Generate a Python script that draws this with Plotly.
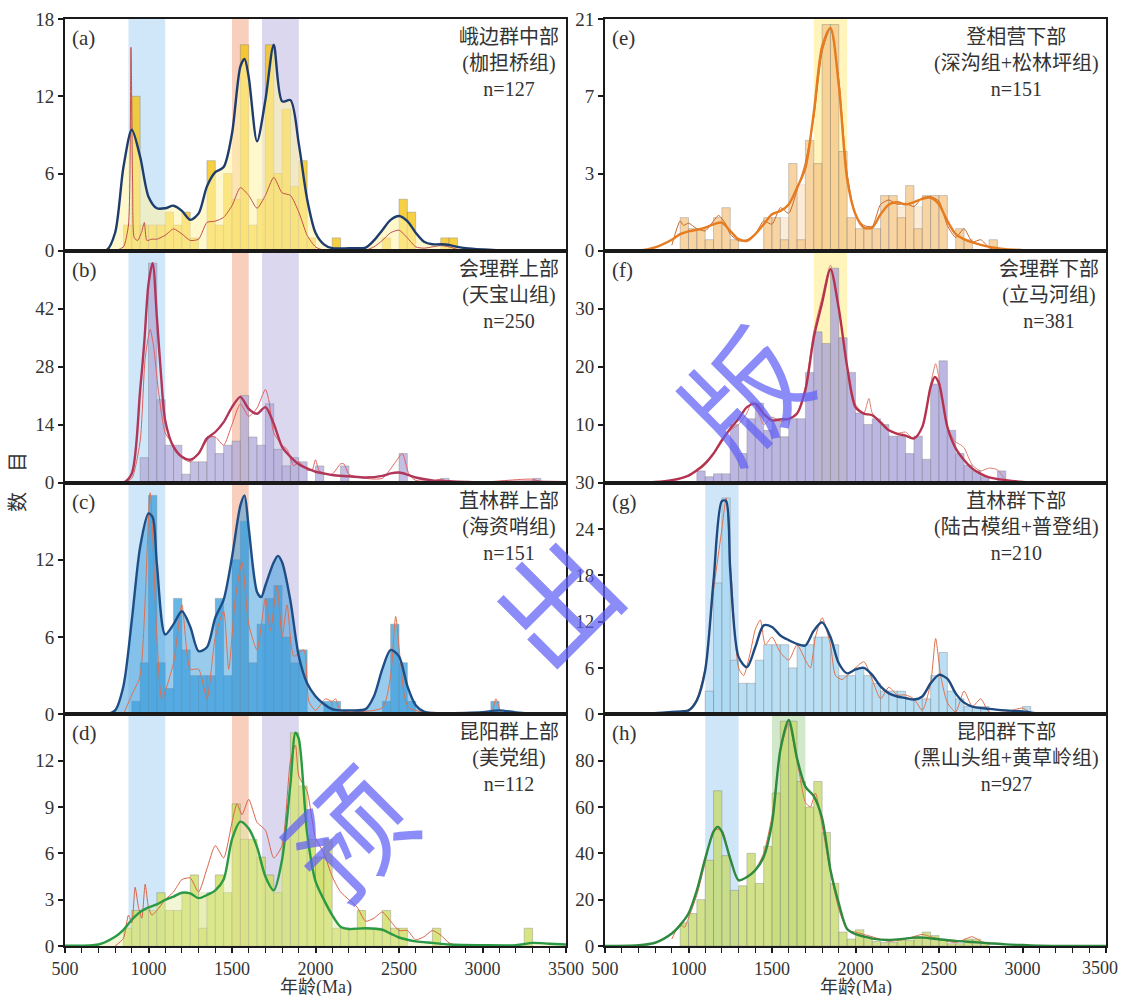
import plotly.graph_objects as go

# ---------------- data ----------------
# bars: left edge of 50-Ma bins and heights
a_bar_x = [850, 900, 950, 1000, 1050, 1100, 1150, 1200, 1250, 1350, 1400, 1450, 1500, 1550, 1600, 1650,
           1700, 1750, 1800, 1850, 1900, 1950, 2100, 2400, 2500, 2550, 2750, 2800]
a_bar_y = [2, 12, 2, 2, 2, 3, 2, 3, 1, 7, 2, 6, 4, 16, 2, 4, 16, 6, 11, 5, 7, 1, 1, 1, 4, 3, 1, 1]
a_kde_x = [500, 700, 750, 800, 850, 900, 950, 1000, 1050, 1100, 1150, 1200, 1250, 1300, 1350, 1400, 1450,
           1500, 1550, 1575, 1600, 1650, 1700, 1750, 1800, 1850, 1900, 1950, 2000, 2050, 2100, 2200, 2300,
           2350, 2400, 2450, 2500, 2550, 2600, 2650, 2700, 2750, 2800, 2850, 2900, 3000, 3100, 3500]
a_kde_y = [0, 0, 0.05, 1.4, 6.5, 9.4, 7.3, 4.2, 3.3, 3.3, 3.5, 3.1, 2.4, 2.9, 5.0, 6.1, 6.5, 9.1, 14.3, 14.9,
           13.5, 8.5, 11.7, 16.0, 11.6, 11.7, 8.3, 4.0, 1.4, 0.5, 0.2, 0.2, 0.25, 0.8, 1.6, 2.4, 2.7, 2.3,
           1.4, 0.7, 0.5, 0.5, 0.45, 0.3, 0.2, 0.1, 0.03, 0]
a_pdp_x = [800, 850, 880, 895, 905, 915, 935, 960, 975, 990, 1020, 1050, 1100, 1150, 1200, 1250, 1300, 1350,
           1400, 1450, 1500, 1550, 1600, 1650, 1700, 1750, 1800, 1850, 1900, 1950, 2000, 2050, 2300, 2350,
           2400, 2450, 2500, 2550, 2600, 2650, 2700, 2750, 2800, 2850, 2900]
a_pdp_y = [0, 0.3, 2, 15.8, 5, 1, 0.8, 1.5, 2.2, 0.8, 0.9, 0.9, 1.2, 1.7, 1.3, 0.8, 0.9, 2.2, 2.3, 2.6, 3.5,
           4.9, 4.3, 3.3, 4.3, 5.7, 4.5, 4.3, 3.0, 1.2, 0.3, 0.05, 0.05, 0.3, 0.8, 1.4, 1.6, 1.0, 0.3, 0.2,
           0.3, 0.4, 0.3, 0.1, 0]

b_bar_x = [950, 1000, 1050, 1100, 1150, 1200, 1250, 1300, 1350, 1400, 1450, 1500, 1550, 1600, 1650, 1700,
           1750, 1800, 1850, 1900, 2000, 2150, 2500, 2750, 3300]
b_bar_y = [6, 53, 20, 9, 9, 2, 5, 5, 11, 7, 9, 10, 21, 11, 9, 19, 8, 4, 6, 5, 4, 4, 7, 1, 1]
b_kde_x = [500, 850, 900, 950, 975, 1000, 1025, 1050, 1075, 1100, 1150, 1200, 1250, 1300, 1350, 1400, 1450,
           1500, 1550, 1600, 1650, 1700, 1750, 1800, 1850, 1900, 1950, 2000, 2050, 2100, 2200, 2300, 2400,
           2450, 2500, 2550, 2600, 2700, 2800, 2900, 3000, 3300, 3500]
b_kde_y = [0, 0, 2.2, 22.3, 34, 48, 53, 40, 26, 15, 8.6, 6.2, 5.5, 7.0, 10.6, 12.2, 14.6, 18.2, 20.7, 17.8,
           16.6, 18.2, 14.2, 8.6, 6.2, 4.4, 3.4, 2.6, 2.2, 1.8, 1.5, 1.2, 1.6, 2.2, 2.4, 1.9, 1.2, 0.5, 0.3,
           0.15, 0.05, 0.2, 0.05]
b_pdp_x = [850, 900, 950, 980, 1010, 1030, 1060, 1100, 1150, 1200, 1250, 1300, 1350, 1400, 1450, 1500, 1550,
           1600, 1650, 1700, 1720, 1750, 1800, 1830, 1870, 1900, 1950, 1980, 2000, 2020, 2050, 2100, 2150,
           2170, 2200, 2300, 2400, 2480, 2520, 2560, 2600, 2700, 2750, 2800, 3000, 3300, 3350]
b_pdp_y = [0, 1, 10, 30, 37, 33, 22, 12, 9, 6, 5, 7, 11, 11, 9, 14, 19, 16, 18, 22.5, 20, 12, 9, 8, 4, 5, 3,
           3, 5.5, 3, 2, 2, 4.5, 4.5, 2, 1, 1, 5, 7, 2, 0.5, 0.3, 0.8, 0.2, 0.1, 0.8, 0.1]

c_bar_x = [900, 950, 1000, 1050, 1100, 1150, 1200, 1250, 1300, 1350, 1400, 1450, 1500, 1550, 1600, 1650,
           1700, 1750, 1800, 1850, 1900, 2050, 2100, 2400, 2450, 2500, 2550, 3050]
c_bar_y = [1, 4, 17, 4, 2, 9, 5, 3, 3, 3, 9, 3, 12, 15, 4, 7, 9, 10, 6, 4, 5, 1, 1, 1, 7, 4, 1, 1]
c_kde_x = [500, 750, 800, 850, 900, 950, 1000, 1025, 1050, 1100, 1150, 1200, 1250, 1300, 1350, 1400, 1450,
           1500, 1550, 1575, 1600, 1650, 1675, 1700, 1750, 1775, 1800, 1850, 1900, 1950, 2000, 2050, 2100,
           2150, 2200, 2300, 2350, 2400, 2450, 2500, 2550, 2600, 2650, 2700, 2900, 3000, 3100, 3200, 3300, 3500]
c_kde_y = [0, 0, 0.3, 2.2, 7.3, 13, 15.6, 15.3, 11.7, 6.2, 7.0, 8.0, 6.8, 4.9, 5.2, 7.5, 8.9, 12.2, 16.2,
           17.0, 14.5, 9.5, 9.1, 10.0, 11.8, 12.3, 11.8, 8.8, 4.5, 2.4, 1.4, 0.8, 0.4, 0.3, 0.3, 0.4, 1.4, 3.5,
           5.0, 4.5, 2.2, 0.7, 0.2, 0.1, 0.1, 0.15, 0.3, 0.15, 0.05, 0]
c_pdp_x = [850, 900, 950, 1010, 1050, 1080, 1150, 1200, 1250, 1300, 1350, 1400, 1450, 1480, 1520, 1560, 1600,
           1650, 1700, 1730, 1770, 1800, 1830, 1870, 1930, 1960, 2000, 2060, 2100, 2120, 2150, 2400, 2450,
           2480, 2510, 2560, 3050, 3080, 3110]
c_pdp_y = [0, 1.5, 3, 17.2, 6, 1.2, 4, 8.5, 3.5, 3.5, 1.2, 6, 8, 3.5, 9, 11.8, 7, 5, 9, 6.5, 10, 6, 8.5, 4.5,
           5, 1, 0.3, 1.2, 1, 1.2, 0.3, 0.5, 3, 7.6, 4, 0.5, 0.1, 1.2, 0.1]

d_bar_x = [850, 900, 950, 1000, 1050, 1100, 1150, 1200, 1250, 1300, 1350, 1400, 1450, 1500, 1550, 1600, 1650,
           1700, 1750, 1800, 1850, 1900, 1950, 2000, 2050, 2100, 2150, 2200, 2250, 2300, 2350, 2400, 2450,
           2500, 2700, 3250]
d_bar_y = [1.15, 2.3, 2.3, 2.3, 3.45, 2.3, 2.3, 3.45, 4.6, 1.15, 3.45, 4.6, 3.45, 9.2, 6.9, 6.9, 5.75, 4.6,
           3.45, 6.9, 13.8, 10.35, 6.9, 5.75, 6.9, 1.15, 1.15, 1.15, 2.3, 1.15, 1.15, 2.3, 1.15, 1.15, 1.15, 1.15]
d_pale_x = [1300, 2000]
d_pale_y = [3.45, 5.75]
d_kde_x = [500, 700, 800, 850, 900, 950, 1000, 1050, 1100, 1150, 1200, 1250, 1300, 1350, 1400, 1450, 1500,
           1550, 1600, 1650, 1700, 1750, 1800, 1850, 1880, 1900, 1950, 2000, 2050, 2100, 2150, 2200, 2300,
           2400, 2450, 2500, 2600, 2700, 2800, 3000, 3200, 3300, 3400, 3500]
d_kde_y = [0.02, 0.1, 0.6, 1.05, 1.7, 2.2, 2.5, 2.7, 2.98, 3.2, 3.45, 3.4, 3.1, 3.3, 3.6, 4.3, 6.9, 8.05,
           7.6, 6.4, 4.5, 3.6, 5.6, 10.5, 13.8, 13.4, 7.3, 4.2, 3.0, 2.0, 1.25, 1.1, 1.15, 1.05, 0.8, 0.55,
           0.3, 0.2, 0.1, 0.05, 0.05, 0.2, 0.15, 0.1]
d_pdp_x = [800, 850, 880, 900, 920, 940, 960, 980, 1000, 1020, 1050, 1100, 1150, 1200, 1250, 1300, 1350,
           1400, 1450, 1500, 1530, 1560, 1600, 1650, 1700, 1750, 1800, 1850, 1880, 1900, 1950, 2000, 2050,
           2100, 2150, 2200, 2250, 2300, 2350, 2400, 2450, 2500, 2550, 2600, 2650, 2700, 2750, 2800, 2850]
d_pdp_y = [0, 0.5, 2, 1.5, 3.8, 2.5, 1.8, 4, 2.5, 2, 2.3, 3, 3.5, 4.3, 4.4, 3.5, 5, 6.5, 5.7, 8, 9.2, 8.5,
           9.5, 8, 7.5, 5.7, 6.5, 12, 13, 11, 10, 7, 6, 4.5, 3.5, 3, 2.5, 1.6, 1.8, 2.2, 1.6, 1, 1, 0.4, 0.6,
           1, 0.7, 0.2, 0]

e_bar_x = [950, 1000, 1050, 1100, 1150, 1200, 1250, 1450, 1500, 1550, 1600, 1650, 1700, 1750, 1800, 1850,
           1900, 1950, 2000, 2050, 2100, 2150, 2200, 2250, 2300, 2350, 2400, 2450, 2500, 2600, 2650, 2800]
e_bar_y = [3, 2, 2, 1, 3, 3.9, 1, 3, 3, 1, 7.9, 1, 10, 7.9, 20.5, 20.5, 9, 3, 2, 2, 2, 5, 5, 3, 5.9, 2, 5,
           5, 5, 2, 1, 1]
e_pale_x = [1550, 1650, 2250, 2350]
e_pale_y = [3, 6, 4, 4]
e_kde_x = [500, 700, 800, 900, 950, 1000, 1050, 1100, 1150, 1200, 1250, 1300, 1350, 1400, 1450, 1500, 1550,
           1600, 1650, 1700, 1750, 1800, 1850, 1900, 1950, 2000, 2050, 2100, 2150, 2200, 2250, 2300, 2350,
           2400, 2450, 2500, 2550, 2600, 2650, 2700, 2800, 2900, 3000, 3100, 3500]
e_kde_y = [0, 0, 0.3, 1.0, 1.5, 1.75, 1.9, 2.1, 2.4, 2.55, 1.8, 1.05, 0.9, 1.5, 2.4, 3.3, 3.6, 4.2, 5.7,
           7.5, 12.5, 18.5, 20.2, 15, 6.5, 3.3, 2.1, 2.1, 3.3, 4.2, 4.4, 4.2, 4.4, 4.7, 4.8, 4.2, 2.7, 1.5,
           1.05, 0.75, 0.35, 0.15, 0.06, 0, 0]
e_pdp_x = [900, 950, 970, 1000, 1050, 1100, 1150, 1180, 1220, 1250, 1300, 1350, 1400, 1450, 1500, 1550,
           1600, 1650, 1700, 1750, 1800, 1850, 1900, 1950, 2000, 2050, 2100, 2150, 2200, 2250, 2300, 2350,
           2400, 2450, 2500, 2550, 2600, 2650, 2700, 2750, 2800, 2850]
e_pdp_y = [0.5, 2.7, 2.3, 2.5, 2, 1.8, 2.7, 3.2, 2.5, 1.5, 0.9, 1.0, 1.5, 2.7, 2.4, 3.9, 3.4, 5.5, 8, 12,
           18, 20.2, 15.5, 7, 3.2, 2.3, 2.2, 4.2, 4.6, 4.2, 4.3, 4, 4.8, 4.9, 4.5, 2.3, 1.2, 2, 0.8, 1, 0.3, 0]

f_bar_x = [1050, 1100, 1150, 1200, 1250, 1300, 1350, 1400, 1450, 1500, 1550, 1600, 1650, 1700, 1750, 1800,
           1850, 1900, 1950, 2000, 2050, 2100, 2150, 2200, 2250, 2300, 2350, 2400, 2450, 2500, 2550, 2600,
           2650, 2700, 2750, 2850]
f_bar_y = [2, 1, 1.5, 1.5, 10, 5, 11, 13.7, 9, 11, 7.9, 11, 11, 19, 26, 24, 37, 25, 19, 12, 10, 11, 10, 8,
           8, 5, 8, 4, 17, 21, 9, 5, 3, 2, 1, 2]
f_kde_x = [500, 800, 900, 1000, 1050, 1100, 1150, 1200, 1250, 1300, 1350, 1400, 1450, 1500, 1550, 1600,
           1650, 1700, 1750, 1800, 1850, 1900, 1950, 2000, 2050, 2100, 2150, 2200, 2250, 2300, 2350, 2400,
           2450, 2475, 2500, 2550, 2600, 2650, 2700, 2750, 2800, 2900, 3000, 3100, 3500]
f_kde_y = [0, 0.1, 0.4, 1.2, 2.1, 3.3, 5.0, 7.3, 9.3, 11.0, 13.0, 13.6, 11.9, 10.7, 10.9, 11.0, 11.9, 16,
           25, 31, 36.8, 30, 20, 13, 11.9, 11.6, 10.4, 9.0, 8.4, 8.1, 7.6, 9.6, 16.5, 18.2, 17.1, 9.6, 5.9,
           3.9, 2.4, 1.5, 0.9, 0.4, 0.1, 0, 0]
f_pdp_x = [1000, 1100, 1200, 1250, 1300, 1350, 1380, 1400, 1450, 1500, 1550, 1600, 1650, 1700, 1750, 1800,
           1850, 1900, 1950, 2000, 2050, 2080, 2100, 2150, 2200, 2250, 2300, 2350, 2400, 2450, 2480, 2500,
           2550, 2600, 2630, 2650, 2700, 2750, 2800, 2850, 2900, 3000]
f_pdp_y = [1, 3, 7, 9, 10, 12, 14, 13.5, 10, 11.3, 10.5, 11, 12, 16.5, 26, 32, 37.5, 30, 20, 13.5, 12, 14.5,
           12, 10.5, 9, 8.5, 8.7, 7.5, 9.5, 17, 20.5, 18, 9.5, 7, 6.5, 6, 3, 2, 2.5, 2.2, 0.5, 0.1]

g_bar_x = [1100, 1150, 1200, 1250, 1300, 1350, 1400, 1450, 1500, 1550, 1600, 1650, 1700, 1750, 1800, 1850,
           1900, 1950, 2000, 2050, 2100, 2150, 2200, 2250, 2300, 2350, 2400, 2450, 2500, 2550, 2600, 2650,
           2700, 2750, 3000]
g_bar_y = [3, 17, 28, 7, 4, 4, 7, 9, 9, 9, 6, 9, 9, 10, 10, 9, 5, 5, 6, 5, 4, 3, 3, 3, 2, 2, 2, 5, 8, 3, 2,
           1, 1, 1, 1]
g_kde_x = [500, 700, 900, 1000, 1050, 1100, 1150, 1200, 1225, 1250, 1300, 1350, 1400, 1450, 1500, 1550,
           1600, 1650, 1700, 1750, 1800, 1850, 1900, 1950, 2000, 2050, 2100, 2150, 2200, 2250, 2300, 2350,
           2400, 2450, 2500, 2550, 2600, 2650, 2700, 2800, 2900, 3000, 3100, 3200, 3500]
g_kde_y = [0, 0.05, 0.3, 0.5, 1.8, 5.7, 17.3, 27.6, 27.6, 18.6, 7.4, 6.1, 8.7, 11.5, 11.3, 10.2, 9.6, 9.1,
           8.9, 10.8, 11.9, 10, 6.6, 5.3, 5.8, 6.0, 5.1, 3.6, 2.7, 2.3, 2.1, 1.9, 2.3, 4.0, 5.1, 4.6, 2.7,
           1.5, 1.0, 0.7, 0.5, 0.35, 0.1, 0, 0]
g_pdp_x = [1000, 1050, 1100, 1150, 1200, 1225, 1250, 1300, 1330, 1370, 1400, 1430, 1460, 1500, 1550, 1600,
           1650, 1700, 1730, 1760, 1800, 1850, 1880, 1920, 1950, 2000, 2050, 2100, 2150, 2200, 2250, 2300,
           2350, 2400, 2450, 2480, 2510, 2550, 2600, 2650, 2700, 2750, 2800, 2900, 3000, 3050]
g_pdp_y = [0.3, 2, 6, 16, 24, 28, 20, 6, 5, 8, 11, 12.2, 9, 10, 8, 7, 9, 7, 6, 10, 12.5, 9, 5, 4.5, 5, 6,
           6.8, 4.5, 2, 3.5, 2.5, 2.5, 2, 0.5, 4, 9.8, 5, 1.5, 0.3, 3, 1, 2, 0.3, 0.3, 0.8, 0.1]

h_bar_x = [950, 1000, 1050, 1100, 1150, 1200, 1250, 1300, 1350, 1400, 1450, 1500, 1550, 1600, 1650, 1700,
           1750, 1800, 1850, 1900, 1950, 2000, 2050, 2100, 2150, 2200, 2250, 2300, 2350, 2400, 2450, 2500,
           2550, 2600, 2650, 2700, 2750]
h_bar_y = [10, 14, 20, 37, 67, 39, 24, 26, 40, 27, 43, 66, 97, 97, 71, 60, 71, 49, 27, 6, 3, 7, 4, 2, 1.5,
           1.5, 2.5, 2.5, 4, 6, 4.5, 2.5, 1, 1, 3, 3, 1]
h_kde_x = [500, 700, 800, 900, 950, 1000, 1050, 1100, 1150, 1175, 1200, 1250, 1300, 1350, 1400, 1450, 1500,
           1550, 1600, 1650, 1700, 1750, 1800, 1850, 1900, 1950, 2000, 2050, 2100, 2200, 2300, 2350, 2400,
           2500, 2600, 2700, 2800, 2900, 3000, 3100, 3500]
h_kde_y = [0, 0.3, 1.4, 5.4, 9, 14, 24, 37.7, 49.3, 51.4, 49.3, 37.7, 28.4, 29.8, 32.7, 38.4, 53, 84.6,
           97.5, 80.9, 68.8, 64.7, 55.1, 32.8, 18.4, 7.3, 5.1, 4.1, 3.2, 2.6, 3.2, 3.6, 3.6, 2.9, 2.2, 1.7,
           1.2, 0.7, 0.4, 0.1, 0]
h_pdp_x = [900, 950, 975, 1000, 1050, 1100, 1150, 1200, 1250, 1300, 1350, 1400, 1450, 1500, 1550, 1600,
           1650, 1700, 1730, 1760, 1800, 1850, 1900, 1950, 2000, 2050, 2100, 2200, 2300, 2400, 2450, 2500,
           2600, 2700, 2750, 2800]
h_pdp_y = [3, 9.5, 8, 12, 22, 36, 50, 50, 37, 28, 30, 33, 40, 56, 84, 96, 80, 62, 60, 66, 52, 32, 16, 7, 6,
           5, 4, 2, 3, 5, 4, 3, 1.5, 4, 2, 1]

panel_letters = ["(a)", "(b)", "(c)", "(d)", "(e)", "(f)", "(g)", "(h)"]
panel_titles = [
    "峨边群中部<br>(枷担桥组)<br>n=127",
    "会理群上部<br>(天宝山组)<br>n=250",
    "苴林群上部<br>(海资哨组)<br>n=151",
    "昆阳群上部<br>(美党组)<br>n=112",
    "登相营下部<br>(深沟组+松林坪组)<br>n=151",
    "会理群下部<br>(立马河组)<br>n=381",
    "苴林群下部<br>(陆古模组+普登组)<br>n=210",
    "昆阳群下部<br>(黑山头组+黄草岭组)<br>n=927",
]
y_ranges = [18, 56, 18, 15, 21, 40, 30, 100]
y_tickvals = [[0, 6, 12, 18], [0, 14, 28, 42], [0, 6, 12], [0, 3, 6, 9, 12],
              [0, 7, 14, 21], [10, 20, 30], [0, 6, 12, 18, 24, 30], [0, 20, 40, 60, 80]]
y_ticktext = [["0", "6", "12", "18"], ["0", "14", "28", "42"], ["0", "6", "12"], ["0", "3", "6", "9", "12"],
              ["0", "3", "7", "21"], ["10", "20", "30"], ["0", "6", "12", "18", "24", "30"],
              ["0", "20", "40", "60", "80"]]
x_ticks = [500, 1000, 1500, 2000, 2500, 3000, 3500]
x_ticktext = ["500", "1000", "1500", "2000", "2500", "3000", "3500"]

# age bands (Ma) per panel
left_bands = [(880, 1100, "#CFE7F8"), (1500, 1600, "#F7CFBC"), (1680, 1900, "#DAD7EF")]
band_sets = [left_bands, left_bands, left_bands, left_bands,
             [(1750, 1950, "#FFF4BC")], [(1750, 1950, "#FFF4BC")],
             [(1100, 1300, "#CFE6F8")], [(1100, 1300, "#CFE6F8"), (1500, 1700, "#D2E8CB")]]

# ---------------- styling ----------------
bar_colors = ["#F4C20F", "#B3ACDC", "#3DA2DD", "#CEDD5C", "#F6C88A", "#A8A2DA", "#A6D6F2", "#C6DB6A"]
kde_colors = ["#1E3C6E", "#B0365A", "#1F4E86", "#2B9A44", "#E67C1F", "#B5334F", "#1F4A80", "#2D8A3E"]
pdp_colors = ["#C0504D", "#E0605E", "#E0704E", "#D9644A", "#C8682A", "#D98070", "#E0704E", "#E0704E"]
kde_fill = ["rgba(255,244,170,0.6)", None, "rgba(70,160,222,0.55)", "rgba(225,236,160,0.45)",
            None, None, None, None]

bars = [(a_bar_x, a_bar_y), (b_bar_x, b_bar_y), (c_bar_x, c_bar_y), (d_bar_x, d_bar_y),
        (e_bar_x, e_bar_y), (f_bar_x, f_bar_y), (g_bar_x, g_bar_y), (h_bar_x, h_bar_y)]
pales = [None, None, None, (d_pale_x, d_pale_y), (e_pale_x, e_pale_y), None, None, None]
kdes = [(a_kde_x, a_kde_y), (b_kde_x, b_kde_y), (c_kde_x, c_kde_y), (d_kde_x, d_kde_y),
        (e_kde_x, e_kde_y), (f_kde_x, f_kde_y), (g_kde_x, g_kde_y), (h_kde_x, h_kde_y)]
pdps = [(a_pdp_x, a_pdp_y), (b_pdp_x, b_pdp_y), (c_pdp_x, c_pdp_y), (d_pdp_x, d_pdp_y),
        (e_pdp_x, e_pdp_y), (f_pdp_x, f_pdp_y), (g_pdp_x, g_pdp_y), (h_pdp_x, h_pdp_y)]

W, H = 1121, 996
col_px = [(65, 566), (605, 1106)]
row_px = [19, 250.75, 482.5, 714.25, 946]
FONT = "Liberation Serif, Times New Roman, Noto Sans CJK SC, serif"
TXT = "#333333"

fig = go.Figure()
layout = dict(width=W, height=H, margin=dict(l=0, r=0, t=0, b=0, autoexpand=False), paper_bgcolor="white",
              plot_bgcolor="white", barmode="overlay", showlegend=False, font=dict(family=FONT, color=TXT))
shapes, annotations = [], []

for i in range(8):
    n = i + 1
    col, row = i // 4, i % 4
    xa = "x" if n == 1 else f"x{n}"
    ya = "y" if n == 1 else f"y{n}"
    xk = "xaxis" if n == 1 else f"xaxis{n}"
    yk = "yaxis" if n == 1 else f"yaxis{n}"
    x0p, x1p = col_px[col]
    top, bot = row_px[row], row_px[row + 1]
    bottom_row = row == 3
    # the right column's last label is placed separately so it stays inside the page
    ttext = x_ticktext if col == 0 else x_ticktext[:-1] + [""]

    layout[xk] = dict(domain=[x0p / W, x1p / W], range=[500, 3500], anchor=ya, automargin=False,
                      showline=True, linecolor="#1a1a1a", linewidth=2, mirror=True,
                      showgrid=False, zeroline=False, ticklabeloverflow="allow",
                      ticks="outside" if bottom_row else "", ticklen=5, tickwidth=1.5, tickcolor="#1a1a1a",
                      tickvals=x_ticks, ticktext=ttext, showticklabels=bottom_row,
                      tickfont=dict(family=FONT, size=18, color=TXT))
    if bottom_row:
        layout[xk]["minor"] = dict(tick0=500, dtick=100, ticks="outside", ticklen=5, tickwidth=1.2,
                                   tickcolor="#1a1a1a")
    layout[yk] = dict(domain=[1 - bot / H, 1 - top / H], range=[0, y_ranges[i]], anchor=xa, automargin=False,
                      showline=True, linecolor="#1a1a1a", linewidth=2, mirror=True,
                      showgrid=False, zeroline=False, ticks="outside", ticklen=5, tickwidth=1.5,
                      tickcolor="#1a1a1a", tickvals=y_tickvals[i], ticktext=y_ticktext[i],
                      ticklabeloverflow="allow",
                      tickfont=dict(family=FONT, size=19, color=TXT))

    for (bx0, bx1, bc) in band_sets[i]:
        shapes.append(dict(type="rect", xref=xa, yref=f"{ya} domain", x0=bx0, x1=bx1, y0=0, y1=1,
                           fillcolor=bc, line=dict(width=0), layer="below"))

    kx, ky = kdes[i]
    if kde_fill[i]:
        fig.add_trace(go.Scatter(x=kx, y=ky, mode="lines", fill="tozeroy", fillcolor=kde_fill[i],
                                 line=dict(width=0, shape="spline", smoothing=0.8),
                                 xaxis=xa, yaxis=ya, hoverinfo="skip"))
    if pales[i]:
        px_, py_ = pales[i]
        fig.add_trace(go.Bar(x=[v + 25 for v in px_], y=py_, width=50, xaxis=xa, yaxis=ya,
                             marker=dict(color=bar_colors[i], opacity=0.35,
                                         line=dict(color="rgba(110,110,110,0.6)", width=0.6))))
    bx, by = bars[i]
    fig.add_trace(go.Bar(x=[v + 25 for v in bx], y=by, width=50, xaxis=xa, yaxis=ya,
                         marker=dict(color=bar_colors[i], opacity=0.78,
                                     line=dict(color="rgba(100,100,100,0.7)", width=0.6))))
    dx, dy = pdps[i]
    fig.add_trace(go.Scatter(x=dx, y=dy, mode="lines", xaxis=xa, yaxis=ya,
                             line=dict(color=pdp_colors[i], width=1.0, shape="spline", smoothing=0.6)))
    fig.add_trace(go.Scatter(x=kx, y=ky, mode="lines", xaxis=xa, yaxis=ya,
                             line=dict(color=kde_colors[i], width=2.4, shape="spline", smoothing=0.8)))

    annotations.append(dict(text=panel_letters[i], xref=f"{xa} domain", yref=f"{ya} domain", x=0, y=1,
                            xanchor="left", yanchor="top", xshift=5, yshift=-5, showarrow=False,
                            font=dict(family=FONT, size=21, color=TXT)))
    annotations.append(dict(text=panel_titles[i], xref=f"{xa} domain", yref=f"{ya} domain", x=1, y=1,
                            xanchor="right", yanchor="top", xshift=-5, yshift=-5, showarrow=False,
                            align="center", font=dict(family=FONT, size=20, color=TXT)))

# last tick label of the right column, kept inside the page like the reference
annotations.append(dict(text=x_ticktext[-1], xref="x8", yref="paper", x=3500, y=1 - 968 / H,
                        xanchor="right", yanchor="middle", xshift=14, showarrow=False,
                        font=dict(family=FONT, size=18, color=TXT)))

# axis titles
for col in range(2):
    x0p, x1p = col_px[col]
    annotations.append(dict(text="年龄(Ma)", xref="paper", yref="paper", x=(x0p + x1p) / 2 / W,
                            y=1 - 987 / H, xanchor="center", yanchor="middle", showarrow=False,
                            font=dict(family=FONT, size=18, color=TXT)))
annotations.append(dict(text="数　目", xref="paper", yref="paper", x=18 / W, y=1 - 482 / H,
                        xanchor="center", yanchor="middle", textangle=-90, showarrow=False,
                        font=dict(family=FONT, size=20, color=TXT)))

# watermark characters
for ch, cx, cy in [("版", 740, 390), ("出", 552, 598), ("预", 345, 830)]:
    annotations.append(dict(text=ch, xref="paper", yref="paper", x=cx / W, y=1 - cy / H,
                            xanchor="center", yanchor="middle", textangle=-45, showarrow=False,
                            font=dict(family="Noto Sans CJK SC", size=118, color="rgba(95,95,245,0.72)")))

layout["shapes"] = shapes
layout["annotations"] = annotations
fig.update_layout(**layout)
fig.write_html("out.html", config={"displayModeBar": False},
               post_script="document.body.style.margin='0';")
